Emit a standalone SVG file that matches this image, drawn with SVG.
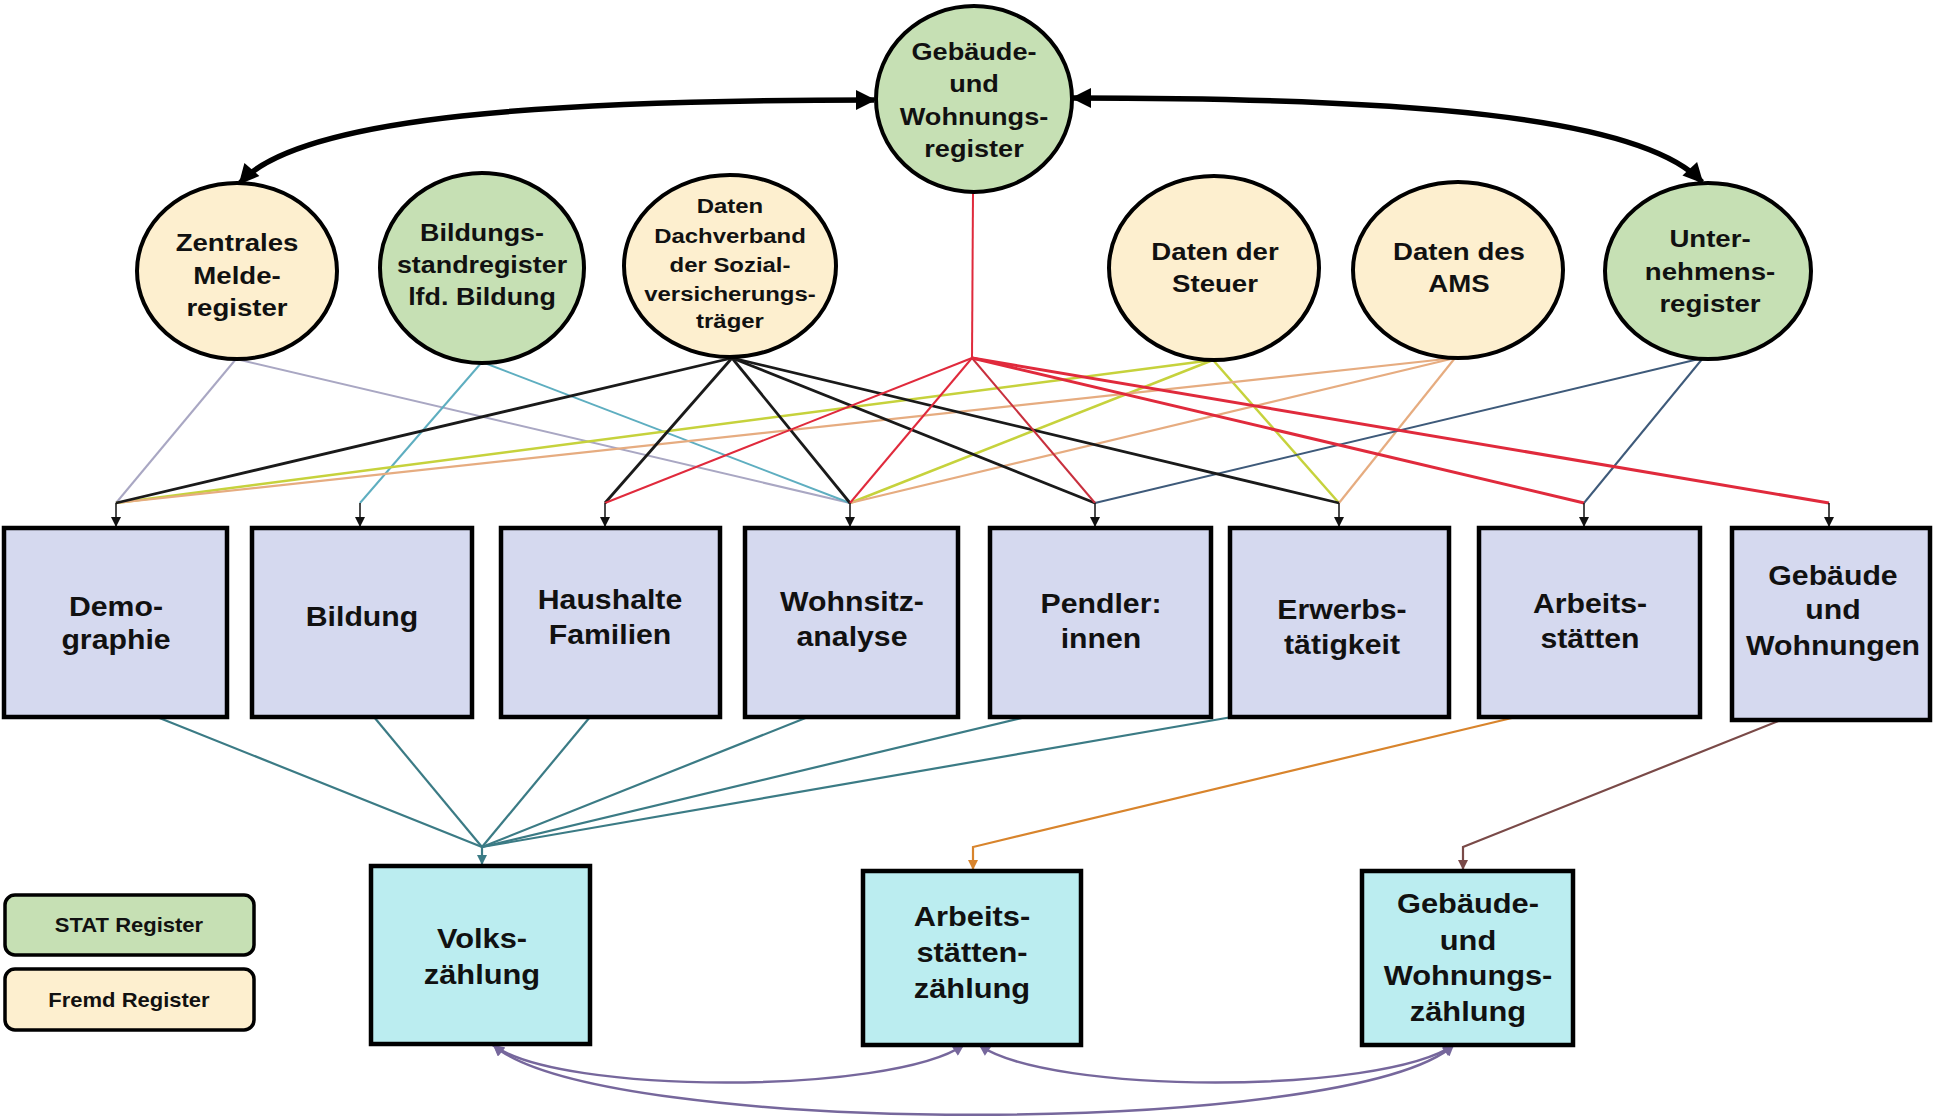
<svg xmlns="http://www.w3.org/2000/svg" width="1934" height="1117" viewBox="0 0 1934 1117">
<style>
.green{fill:#c6e0b4;stroke:#000;stroke-width:4}
.cream{fill:#fdefcf;stroke:#000;stroke-width:4}
.mid{fill:#d5d9ef;stroke:#000;stroke-width:4.5}
.bot{fill:#bbedf0;stroke:#000;stroke-width:4.5}
.leg{stroke:#000;stroke-width:3.5}
text{font-family:"Liberation Sans",Arial,sans-serif;font-weight:bold;fill:#111;text-anchor:middle}
.e{font-size:24px}
.s{font-size:21px}
.m{font-size:27px}
.b{font-size:28px}
.l{font-size:20px}
.c line,.c path,.c polyline{fill:none}
</style>
<defs>
<marker id="big" viewBox="0 0 10 10" refX="9" refY="5" markerUnits="userSpaceOnUse" markerWidth="26" markerHeight="20" orient="auto-start-reverse"><path d="M0,0 L10,5 L0,10 z" fill="#000"/></marker>
<marker id="ab" viewBox="0 0 10 10" refX="10" refY="5" markerUnits="userSpaceOnUse" markerWidth="14" markerHeight="10" orient="auto"><path d="M0,0 L10,5 L0,10 z" fill="#111"/></marker>
<marker id="at" viewBox="0 0 10 10" refX="10" refY="5" markerUnits="userSpaceOnUse" markerWidth="14" markerHeight="10" orient="auto"><path d="M0,0 L10,5 L0,10 z" fill="#3b7b85"/></marker>
<marker id="ao" viewBox="0 0 10 10" refX="10" refY="5" markerUnits="userSpaceOnUse" markerWidth="14" markerHeight="10" orient="auto"><path d="M0,0 L10,5 L0,10 z" fill="#d8842c"/></marker>
<marker id="ar" viewBox="0 0 10 10" refX="10" refY="5" markerUnits="userSpaceOnUse" markerWidth="14" markerHeight="10" orient="auto"><path d="M0,0 L10,5 L0,10 z" fill="#7a4a48"/></marker>
<marker id="ap" viewBox="0 0 10 10" refX="10" refY="5" markerUnits="userSpaceOnUse" markerWidth="16" markerHeight="11" orient="auto-start-reverse"><path d="M0,0 L10,5 L0,10 z" fill="#76679c"/></marker>
</defs>
<rect width="1934" height="1117" fill="#fff"/>
<g id="connectors" class="c">
<path d="M240,183 C300,115 560,100 874,100" stroke="#000" stroke-width="5.5" marker-start="url(#big)" marker-end="url(#big)"/>
<path d="M1073,98 C1400,98 1640,115 1702,182" stroke="#000" stroke-width="5.5" marker-start="url(#big)" marker-end="url(#big)"/>
<g stroke="#a9a7c3" stroke-width="2"><line x1="236" y1="359" x2="116" y2="503"/><line x1="236" y1="359" x2="850" y2="503"/></g>
<g stroke="#5eaec0" stroke-width="2"><line x1="482" y1="362" x2="360" y2="503"/><line x1="482" y1="362" x2="850" y2="503"/></g>
<g stroke="#c6d23c" stroke-width="2.5"><line x1="1213" y1="360" x2="116" y2="503"/><line x1="1213" y1="360" x2="850" y2="503"/><line x1="1213" y1="360" x2="1339" y2="503"/></g>
<g stroke="#e6ac80" stroke-width="2.2"><line x1="1455" y1="358" x2="116" y2="503"/><line x1="1455" y1="358" x2="850" y2="503"/><line x1="1455" y1="358" x2="1339" y2="503"/></g>
<g stroke="#3e5a7a" stroke-width="2"><line x1="1703" y1="358" x2="1095" y2="503"/><line x1="1703" y1="358" x2="1584" y2="503"/></g>
<g stroke="#1a1a1a" stroke-width="2.8"><line x1="732" y1="358" x2="116" y2="503"/><line x1="732" y1="358" x2="605" y2="503"/><line x1="732" y1="358" x2="850" y2="503"/><line x1="732" y1="358" x2="1095" y2="503"/><line x1="732" y1="358" x2="1339" y2="503"/></g>
<g stroke="#e02a3c" stroke-width="2"><line x1="973" y1="192" x2="972" y2="358"/><line x1="972" y1="358" x2="605" y2="503"/><line x1="972" y1="358" x2="850" y2="503"/><line x1="972" y1="358" x2="1095" y2="503" stroke="#c8303e"/><line x1="972" y1="358" x2="1584" y2="503" stroke-width="3"/><line x1="972" y1="358" x2="1829" y2="503" stroke-width="3"/></g>
<g stroke="#111" stroke-width="1.5"><line x1="116" y1="503" x2="116" y2="527" marker-end="url(#ab)"/><line x1="360" y1="503" x2="360" y2="527" marker-end="url(#ab)"/><line x1="605" y1="503" x2="605" y2="527" marker-end="url(#ab)"/><line x1="850" y1="503" x2="850" y2="527" marker-end="url(#ab)"/><line x1="1095" y1="503" x2="1095" y2="527" marker-end="url(#ab)"/><line x1="1339" y1="503" x2="1339" y2="527" marker-end="url(#ab)"/><line x1="1584" y1="503" x2="1584" y2="527" marker-end="url(#ab)"/><line x1="1829" y1="503" x2="1829" y2="527" marker-end="url(#ab)"/></g>
<g stroke="#3b7b85" stroke-width="2.2"><line x1="157" y1="717" x2="482" y2="847"/><line x1="374" y1="717" x2="482" y2="847"/><line x1="590" y1="717" x2="482" y2="847"/><line x1="808" y1="717" x2="482" y2="847"/><line x1="1026" y1="717" x2="482" y2="847"/><line x1="1232" y1="717" x2="482" y2="847"/><line x1="482" y1="847" x2="482" y2="865" marker-end="url(#at)"/></g>
<polyline points="1516,717 973,847 973,870" stroke="#d8842c" stroke-width="2.2" marker-end="url(#ao)"/>
<polyline points="1781,720 1463,847 1463,870" stroke="#7a4a48" stroke-width="2.2" marker-end="url(#ar)"/>
<g stroke="#76679c" stroke-width="2.5"><path d="M493,1045 C560,1095 890,1095 964,1045" marker-start="url(#ap)" marker-end="url(#ap)"/><path d="M979,1045 C1050,1095 1380,1095 1454,1045" marker-start="url(#ap)" marker-end="url(#ap)"/><path d="M493,1045 C600,1138 1350,1138 1454,1045" marker-start="url(#ap)" marker-end="url(#ap)"/></g>
</g>
<g id="gwr"><ellipse class="green" cx="974" cy="99" rx="98" ry="93"/><text class="e" transform="translate(974 0) scale(1.13 1)"><tspan x="0" y="60">Gebäude-</tspan><tspan x="0" y="92">und</tspan><tspan x="0" y="125">Wohnungs-</tspan><tspan x="0" y="157">register</tspan></text></g>
<g id="zmr"><ellipse class="cream" cx="237" cy="271" rx="100" ry="88"/><text class="e" transform="translate(237 0) scale(1.15 1)"><tspan x="0" y="251">Zentrales</tspan><tspan x="0" y="284">Melde-</tspan><tspan x="0" y="316">register</tspan></text></g>
<g id="bsr"><ellipse class="green" cx="482" cy="268" rx="102" ry="95"/><text class="e" transform="translate(482 0) scale(1.12 1)"><tspan x="0" y="241">Bildungs-</tspan><tspan x="0" y="273">standregister</tspan><tspan x="0" y="305">lfd. Bildung</tspan></text></g>
<g id="dvs"><ellipse class="cream" cx="730" cy="266" rx="106" ry="91"/><text class="s" transform="translate(730 0) scale(1.14 1)"><tspan x="0" y="213">Daten</tspan><tspan x="0" y="243">Dachverband</tspan><tspan x="0" y="272">der Sozial-</tspan><tspan x="0" y="301">versicherungs-</tspan><tspan x="0" y="328">träger</tspan></text></g>
<g id="steuer"><ellipse class="cream" cx="1214" cy="268" rx="105" ry="92"/><text class="e" transform="translate(1215 0) scale(1.15 1)"><tspan x="0" y="260">Daten der</tspan><tspan x="0" y="292">Steuer</tspan></text></g>
<g id="ams"><ellipse class="cream" cx="1458" cy="270" rx="105" ry="88"/><text class="e" transform="translate(1459 0) scale(1.15 1)"><tspan x="0" y="260">Daten des</tspan><tspan x="0" y="292">AMS</tspan></text></g>
<g id="ur"><ellipse class="green" cx="1708" cy="271" rx="103" ry="88"/><text class="e" transform="translate(1710 0) scale(1.15 1)"><tspan x="0" y="247">Unter-</tspan><tspan x="0" y="280">nehmens-</tspan><tspan x="0" y="312">register</tspan></text></g>
<g id="demographie"><rect class="mid" x="4" y="528" width="223" height="189"/><text class="m" transform="translate(116 0) scale(1.12 1)"><tspan x="0" y="616">Demo-</tspan><tspan x="0" y="649">graphie</tspan></text></g>
<g id="bildung"><rect class="mid" x="252" y="528" width="220" height="189"/><text class="m" transform="translate(362 0) scale(1.12 1)"><tspan x="0" y="626">Bildung</tspan></text></g>
<g id="haushalte"><rect class="mid" x="501" y="528" width="219" height="189"/><text class="m" transform="translate(610 0) scale(1.12 1)"><tspan x="0" y="609">Haushalte</tspan><tspan x="0" y="644">Familien</tspan></text></g>
<g id="wohnsitz"><rect class="mid" x="745" y="528" width="213" height="189"/><text class="m" transform="translate(852 0) scale(1.12 1)"><tspan x="0" y="611">Wohnsitz-</tspan><tspan x="0" y="646">analyse</tspan></text></g>
<g id="pendler"><rect class="mid" x="990" y="528" width="221" height="189"/><text class="m" transform="translate(1101 0) scale(1.12 1)"><tspan x="0" y="613">Pendler:</tspan><tspan x="0" y="648">innen</tspan></text></g>
<g id="erwerb"><rect class="mid" x="1230" y="528" width="219" height="189"/><text class="m" transform="translate(1342 0) scale(1.12 1)"><tspan x="0" y="619">Erwerbs-</tspan><tspan x="0" y="654">tätigkeit</tspan></text></g>
<g id="arbeitsstaetten"><rect class="mid" x="1479" y="528" width="221" height="189"/><text class="m" transform="translate(1590 0) scale(1.12 1)"><tspan x="0" y="613">Arbeits-</tspan><tspan x="0" y="648">stätten</tspan></text></g>
<g id="gebaeude"><rect class="mid" x="1732" y="528" width="198" height="192"/><text class="m" transform="translate(1833 0) scale(1.12 1)"><tspan x="0" y="585">Gebäude</tspan><tspan x="0" y="619">und</tspan><tspan x="0" y="655">Wohnungen</tspan></text></g>
<g id="vz"><rect class="bot" x="371" y="866" width="219" height="178"/><text class="b" transform="translate(482 0) scale(1.1 1)"><tspan x="0" y="948">Volks-</tspan><tspan x="0" y="984">zählung</tspan></text></g>
<g id="asz"><rect class="bot" x="863" y="871" width="218" height="174"/><text class="b" transform="translate(972 0) scale(1.1 1)"><tspan x="0" y="926">Arbeits-</tspan><tspan x="0" y="962">stätten-</tspan><tspan x="0" y="998">zählung</tspan></text></g>
<g id="gwz"><rect class="bot" x="1362" y="871" width="211" height="174"/><text class="b" transform="translate(1468 0) scale(1.1 1)"><tspan x="0" y="913">Gebäude-</tspan><tspan x="0" y="950">und</tspan><tspan x="0" y="985">Wohnungs-</tspan><tspan x="0" y="1021">zählung</tspan></text></g>
<g id="legend-stat"><rect class="leg" x="5" y="895" width="249" height="60" rx="10" fill="#c6e0b4"/><text class="l" transform="translate(129 0) scale(1.1 1)"><tspan x="0" y="932">STAT Register</tspan></text></g>
<g id="legend-fremd"><rect class="leg" x="5" y="969" width="249" height="61" rx="10" fill="#fdefcf"/><text class="l" transform="translate(129 0) scale(1.1 1)"><tspan x="0" y="1007">Fremd Register</tspan></text></g>
</svg>
